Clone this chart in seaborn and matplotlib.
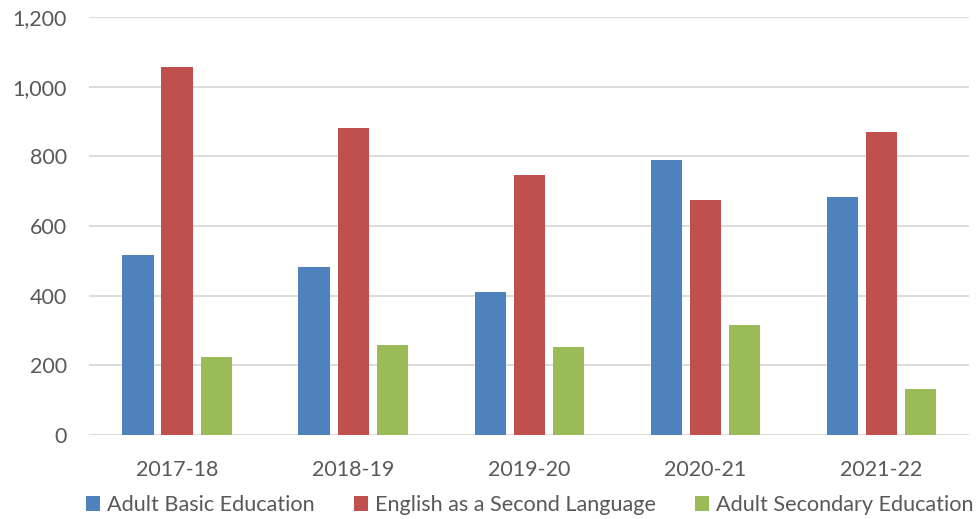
import matplotlib
matplotlib.use("Agg")
import matplotlib.pyplot as plt
import matplotlib.ticker as mticker
from matplotlib.patches import Patch
import pandas as pd
import seaborn as sns

# Data
years = ["2017-18", "2018-19", "2019-20", "2020-21", "2021-22"]
programs = ["Adult Basic Education", "English as a Second Language",
            "Adult Secondary Education"]
abe = [517, 482, 411, 790, 683]
esl = [1057, 883, 747, 675, 871]
ase = [223, 258, 253, 316, 131]
colors = ["#4F81BD", "#C0504D", "#9BBB59"]

df = pd.DataFrame({
    "year": years * 3,
    "program": [programs[0]] * 5 + [programs[1]] * 5 + [programs[2]] * 5,
    "value": abe + esl + ase,
})

sns.set_theme(style="white")
plt.rcParams["font.family"] = ["Lato", "DejaVu Sans"]
text_color = "#595959"

fig = plt.figure(figsize=(9.79, 5.19), dpi=100)
ax = fig.add_axes([0.091, 0.1624, 0.899, 0.8043])

sns.barplot(data=df, x="year", y="value", hue="program", hue_order=programs,
            palette=colors, saturation=1, width=0.665, gap=0.2, linewidth=0,
            ax=ax, legend=False, zorder=3)

ax.set_ylim(0, 1200)
ax.set_xlim(-0.5, 4.5)
ax.yaxis.set_major_locator(mticker.MultipleLocator(200))
ax.yaxis.set_major_formatter(mticker.FuncFormatter(lambda v, p: f"{int(v):,}"))
ax.grid(axis="y", color="#D9D9D9", linewidth=1.3, zorder=0)
ax.set_axisbelow(True)
for s in ax.spines.values():
    s.set_visible(False)
ax.set_xlabel("")
ax.set_ylabel("")
ax.tick_params(axis="both", length=0, labelsize=15.5, colors=text_color)
ax.tick_params(axis="x", pad=18)
ax.tick_params(axis="y", pad=16)

handles = [Patch(facecolor=c, edgecolor="none") for c in colors]
fig.legend(handles, programs, loc="center", bbox_to_anchor=(0.541, 0.027),
           ncol=3, frameon=False, fontsize=15.6, handlelength=0.65,
           handleheight=0.65, handletextpad=0.32, columnspacing=1.8,
           labelcolor=text_color, borderpad=0, borderaxespad=0)

fig.savefig("out.png", dpi=100)
